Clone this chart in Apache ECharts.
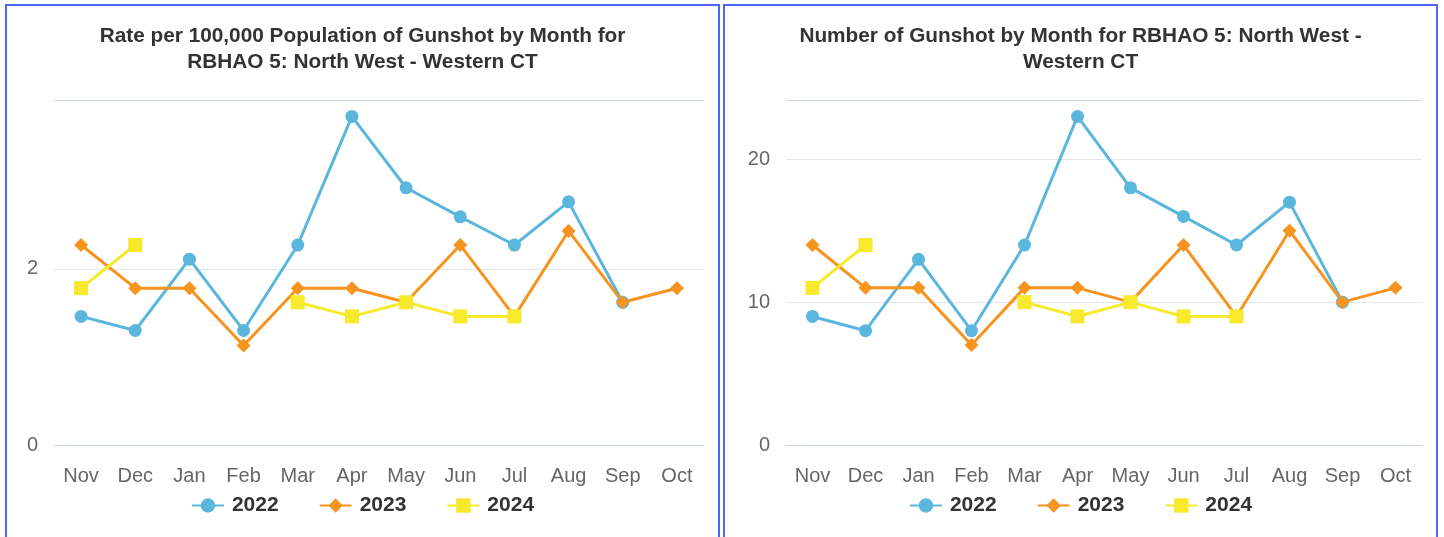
<!DOCTYPE html>
<html lang="en">
<head>
    <meta http-equiv="content-type" content="text/html;charset=utf-8">
    <title>Gunshot by Month</title>
    <script src="https://cdn.jsdelivr.net/npm/echarts@6/dist/echarts.min.js"></script>
    <style>
        body { margin: 0; width: 1444px; height: 537px; overflow: hidden; background: #fff; }
        .panel { position: absolute; top: 4px; width: 711px; height: 540px; border: 2px solid #4d66ff; }
    </style>
</head>
<body>
    <div id="rate" class="panel" style="left:5px"></div>
    <div id="count" class="panel" style="left:723px"></div>
    <script>
        // months of the reporting year (Nov - Oct)
        var months = ['Nov', 'Dec', 'Jan', 'Feb', 'Mar', 'Apr', 'May', 'Jun', 'Jul', 'Aug', 'Sep', 'Oct'];
        var years = ['2022', '2023', '2024'];

        // rate per 100,000 population
        var rate2022 = [1.46, 1.30, 2.11, 1.30, 2.27, 3.73, 2.92, 2.59, 2.27, 2.76, 1.62, null];
        var rate2023 = [2.27, 1.78, 1.78, 1.13, 1.78, 1.78, 1.62, 2.27, 1.46, 2.43, 1.62, 1.78];
        var rate2024 = [1.78, 2.27, null, null, 1.62, 1.46, 1.62, 1.46, 1.46, null, null, null];

        // number of gunshot
        var count2022 = [9, 8, 13, 8, 14, 23, 18, 16, 14, 17, 10, null];
        var count2023 = [14, 11, 11, 7, 11, 11, 10, 14, 9, 15, 10, 11];
        var count2024 = [11, 14, null, null, 10, 9, 10, 9, 9, null, null, null];

        var colors = ['#5bb6de', '#f7931f', '#f7e92c'];
        var symbols = ['circle', 'diamond', 'rect'];
        var symbolSizes = [13, 14, 14];
        var font = '"Liberation Sans", Arial, sans-serif';

        function makeSeries(datas) {
            return datas.map(function (d, i) {
                return {
                    name: years[i],
                    type: 'line',
                    data: d,
                    symbol: symbols[i],
                    symbolSize: symbolSizes[i],
                    showAllSymbol: true,
                    connectNulls: false,
                    lineStyle: { width: 3, color: colors[i] },
                    itemStyle: { color: colors[i] },
                    emphasis: { disabled: true }
                };
            });
        }

        function makeOption(titleText, gridLeft, interval, gridColors, datas) {
            return {
                animation: false,
                color: colors,
                textStyle: { fontFamily: font },
                title: {
                    text: titleText,
                    left: 'center',
                    top: 12,
                    textStyle: { fontSize: 20.8, fontWeight: 'bold', color: '#333', lineHeight: 26, fontFamily: font, align: 'center' }
                },
                grid: { left: gridLeft, right: 14, top: 94, bottom: 101 },
                legend: {
                    data: years,
                    top: 484,
                    left: 'center',
                    itemWidth: 32,
                    itemHeight: 18,
                    itemGap: 40,
                    textStyle: { fontSize: 21, fontWeight: 'bold', color: '#333', fontFamily: font, padding: [0, 0, 0, 3] }
                },
                xAxis: {
                    type: 'category',
                    data: months,
                    boundaryGap: true,
                    axisLine: { lineStyle: { color: '#ccd6eb', width: 1 } },
                    axisTick: { show: false },
                    axisLabel: { fontSize: 20, color: '#666', margin: 21, fontFamily: font }
                },
                yAxis: {
                    type: 'value',
                    min: 0,
                    max: function (v) { return v.max * 1.05; },
                    interval: interval,
                    axisLine: { show: false },
                    axisTick: { show: false },
                    axisLabel: { fontSize: 20, color: '#666', margin: 16, showMaxLabel: false, fontFamily: font },
                    splitLine: { lineStyle: { color: gridColors, width: 1 } }
                },
                series: makeSeries(datas)
            };
        }

        var rateChart = echarts.init(document.getElementById('rate'));
        rateChart.setOption(makeOption(
            'Rate per 100,000 Population of Gunshot by Month for\nRBHAO 5: North West - Western CT',
            47, 2, ['#ccd6eb', '#e6e6e6', '#ccd6eb'],
            [rate2022, rate2023, rate2024]
        ));

        var countChart = echarts.init(document.getElementById('count'));
        countChart.setOption(makeOption(
            'Number of Gunshot by Month for RBHAO 5: North West -\nWestern CT',
            61, 10, ['#ccd6eb', '#e6e6e6', '#e6e6e6', '#ccd6eb'],
            [count2022, count2023, count2024]
        ));

        window.onresize = function () {
            rateChart.resize();
            countChart.resize();
        };
    </script>
</body>
</html>
